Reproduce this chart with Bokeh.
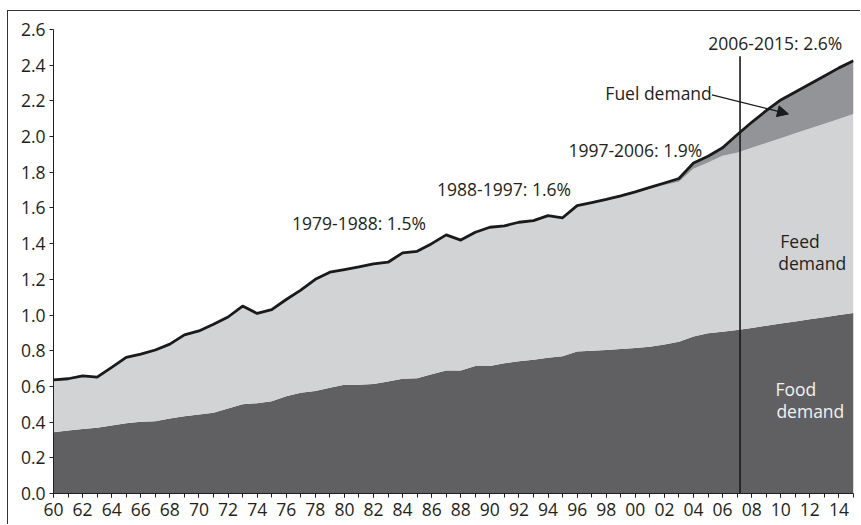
import numpy as np
from bokeh.plotting import figure
from bokeh.models import (ColumnDataSource, Range1d, FixedTicker, Label, Arrow,
                          NormalHead, NumeralTickFormatter)
from bokeh.embed import file_html
from bokeh.resources import INLINE

# ---------------- data ----------------
years = list(range(1960, 2016))

food = [0.343, 0.353, 0.362, 0.368, 0.381, 0.394, 0.402, 0.405, 0.420, 0.433,
        0.443, 0.452, 0.476, 0.500, 0.506, 0.517, 0.545, 0.565, 0.575, 0.592,
        0.609, 0.609, 0.614, 0.628, 0.643, 0.646, 0.668, 0.689, 0.689, 0.714,
        0.715, 0.730, 0.741, 0.750, 0.760, 0.769, 0.795, 0.800, 0.804, 0.809,
        0.816, 0.823, 0.835, 0.850, 0.880, 0.898, 0.907, 0.916, 0.928, 0.940,
        0.952, 0.964, 0.976, 0.988, 1.000, 1.011]

feed = [0.294, 0.290, 0.297, 0.284, 0.326, 0.369, 0.379, 0.399, 0.417, 0.456,
        0.468, 0.496, 0.513, 0.550, 0.503, 0.513, 0.542, 0.575, 0.625, 0.648,
        0.646, 0.661, 0.673, 0.668, 0.705, 0.711, 0.732, 0.760, 0.731, 0.750,
        0.777, 0.770, 0.779, 0.779, 0.797, 0.776, 0.818, 0.830, 0.844, 0.859,
        0.869, 0.884, 0.893, 0.897, 0.940, 0.957, 0.985, 0.994, 1.009, 1.024,
        1.038, 1.054, 1.069, 1.084, 1.099, 1.115]

fuel = [0.0] * 40 + [0.005, 0.008, 0.012, 0.018, 0.032, 0.035, 0.045, 0.100,
                     0.143, 0.181, 0.215, 0.232, 0.250, 0.268, 0.286, 0.299]

y_ticks = [0.0, 0.2, 0.4, 0.6, 0.8, 1.0, 1.2, 1.4, 1.6, 1.8, 2.0, 2.2, 2.4, 2.6]
x_ticks = [1960, 1962, 1964, 1966, 1968, 1970, 1972, 1974, 1976, 1978, 1980,
           1982, 1984, 1986, 1988, 1990, 1992, 1994, 1996, 1998, 2000, 2002,
           2004, 2006, 2008, 2010, 2012, 2014]
x_tick_labels = ["60", "62", "64", "66", "68", "70", "72", "74", "76", "78", "80",
                 "82", "84", "86", "88", "90", "92", "94", "96", "98", "00", "02",
                 "04", "06", "08", "10", "12", "14"]

split_year = 2007.2
split_top = 2.45

period_labels = ["1979-1988: 1.5%", "1988-1997: 1.6%", "1997-2006: 1.9%", "2006-2015: 2.6%"]
period_x = [1976.4, 1986.37, 1995.4, 2005.02]
period_y = [1.513, 1.709, 1.922, 2.524]

# ---------------- styling ----------------
FONT = "Open Sans"
FS = "17.5px"
TXT = "#231f20"
C_FOOD = "#606062"
C_FEED = "#d2d3d5"
C_FUEL = "#939497"

total = (np.array(food) + np.array(feed) + np.array(fuel)).tolist()
src = ColumnDataSource(dict(year=years, food=food, feed=feed, fuel=fuel, total=total))

p = figure(width=853, height=514, x_range=Range1d(1960, 2015), y_range=Range1d(0, 2.6),
           output_backend="svg", toolbar_location=None,
           min_border_left=45, min_border_right=8, min_border_top=18, min_border_bottom=32)
p.styles = {"margin-left": "7px", "margin-top": "10px",
            "border-top": "1px solid #333", "border-left": "1px solid #333"}
p.outline_line_color = None
p.xgrid.visible = False
p.ygrid.visible = False
p.background_fill_color = "white"

p.varea_stack(["food", "feed", "fuel"], x="year", color=[C_FOOD, C_FEED, C_FUEL], source=src)
p.line("year", "total", source=src, line_color="#1a1a1a", line_width=2.8, line_join="round")

p.segment(x0=[split_year], y0=[0], x1=[split_year], y1=[split_top], line_color="#1a1a1a", line_width=1.6)

# axes
xa = p.xaxis[0]
xa.ticker = FixedTicker(ticks=x_ticks, minor_ticks=years)
xa.major_label_overrides = {t: l for t, l in zip(x_ticks, x_tick_labels)}
xa.major_tick_in = 0
xa.major_tick_out = 4
xa.minor_tick_in = 0
xa.minor_tick_out = 4
xa.major_label_standoff = 5
xa.major_label_text_font = FONT
xa.major_label_text_font_size = FS
xa.major_label_text_color = TXT
xa.axis_line_color = TXT
xa.major_tick_line_color = TXT
xa.minor_tick_line_color = TXT

ya = p.yaxis[0]
ya.ticker = FixedTicker(ticks=y_ticks)
ya.formatter = NumeralTickFormatter(format="0.0")
ya.major_tick_in = 0
ya.major_tick_out = 4
ya.minor_tick_line_color = None
ya.major_label_standoff = 4
ya.major_label_text_font = FONT
ya.major_label_text_font_size = FS
ya.major_label_text_color = TXT
ya.axis_line_color = TXT
ya.major_tick_line_color = TXT

# annotations
for t, x, y in zip(period_labels, period_x, period_y):
    p.add_layout(Label(x=x, y=y, text=t, text_font=FONT, text_font_size=FS,
                       text_color=TXT, text_baseline="middle", text_align="left"))

p.add_layout(Label(x=1997.94, y=2.246, text="Fuel demand", text_font=FONT, text_font_size=FS,
                   text_color=TXT, text_baseline="middle"))
p.add_layout(Arrow(x_start=2005.27, y_start=2.234, x_end=2010.53, y_end=2.127,
                   line_color="#1a1a1a", line_width=1.3,
                   end=NormalHead(size=11, fill_color="#1a1a1a", line_color="#1a1a1a")))

p.add_layout(Label(x=2009.97, y=1.417, text="Feed", text_font=FONT, text_font_size=FS,
                   text_color=TXT, text_baseline="middle"))
p.add_layout(Label(x=2009.83, y=1.294, text="demand", text_font=FONT, text_font_size=FS,
                   text_color=TXT, text_baseline="middle"))
p.add_layout(Label(x=2009.63, y=0.583, text="Food", text_font=FONT, text_font_size=FS,
                   text_color="#f2f2f2", text_baseline="middle"))
p.add_layout(Label(x=2009.7, y=0.465, text="demand", text_font=FONT, text_font_size=FS,
                   text_color="#f2f2f2", text_baseline="middle"))

open("out.html", "w").write(file_html(p, INLINE))
